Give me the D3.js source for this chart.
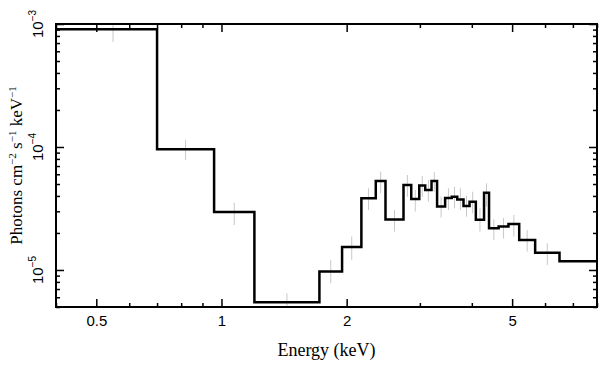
<!DOCTYPE html>
<html>
<head>
<meta charset="utf-8">
<script src="https://cdn.jsdelivr.net/npm/d3@7"></script>
<style>
  body { margin: 0; background: #fff; }
  .tick line { stroke: #000; stroke-width: 1.5; }
  .domain { display: none; }
</style>
</head>
<body>
<div id="chart"></div>
<script>
var width = 609;
var height = 370;
var margin = {left: 56, right: 12, top: 24, bottom: 63};

// bin edges in keV (one more than the bins)
var edges = [0.43, 0.70, 0.96, 1.20, 1.72, 1.95, 2.17, 2.35, 2.48, 2.74, 2.86, 2.99, 3.09, 3.20,
  3.30, 3.45, 3.58, 3.69, 3.82, 3.95, 4.09, 4.28, 4.40, 4.64, 4.90, 5.20, 5.68, 6.50, 9.0];
// photons cm^-2 s^-1 keV^-1
var flux = [9.06e-4, 9.58e-5, 2.96e-5, 5.46e-6, 9.72e-6, 1.54e-5, 3.83e-5, 5.29e-5, 2.57e-5,
  4.91e-5, 3.78e-5, 4.86e-5, 4.47e-5, 5.29e-5, 3.28e-5, 3.85e-5, 3.94e-5, 3.74e-5, 3.31e-5,
  3.59e-5, 2.56e-5, 4.25e-5, 2.18e-5, 2.26e-5, 2.37e-5, 1.75e-5, 1.38e-5, 1.18e-5];
var errHi = [9.81e-4, 1.14e-4, 3.52e-5, 6.46e-6, 1.21e-5, 1.87e-5, 4.62e-5, 6.30e-5, 3.07e-5,
  5.92e-5, 4.47e-5, 5.81e-5, 5.39e-5, 6.26e-5, 3.94e-5, 4.62e-5, 4.75e-5, 4.62e-5, 4.0e-5,
  4.33e-5, 3.17e-5, 5.07e-5, 2.58e-5, 2.65e-5, 2.80e-5, 2.11e-5, 1.65e-5, null];
var errLo = [7.14e-4, 7.84e-5, 2.32e-5, 4.91e-6, 7.80e-6, 1.21e-5, 3.07e-5, 4.20e-5, 2.05e-5,
  3.94e-5, 2.98e-5, 3.94e-5, 3.59e-5, 4.33e-5, 2.67e-5, 3.07e-5, 3.17e-5, 3.07e-5, 2.71e-5,
  2.89e-5, 2.05e-5, 3.27e-5, 1.75e-5, 1.80e-5, 1.87e-5, 1.41e-5, 1.10e-5, null];

var xMajor = [0.5, 1, 2, 5];
var xMinor = [0.4, 0.6, 0.7, 0.8, 0.9, 3, 4, 6, 7, 8];
var yMajor = [1e-5, 1e-4, 1e-3];
var yExp = ["\u22125", "\u22124", "\u22123"];
var yMinor = [5e-6, 6e-6, 7e-6, 8e-6, 9e-6, 2e-5, 3e-5, 4e-5, 5e-5, 6e-5, 7e-5, 8e-5, 9e-5,
  2e-4, 3e-4, 4e-4, 5e-4, 6e-4, 7e-4, 8e-4, 9e-4];

var x = d3.scaleLog().domain([0.4, 8]).range([margin.left, width - margin.right]);
var y = d3.scaleLog().domain([5e-6, 1e-3]).range([height - margin.bottom, margin.top]);

var svg = d3.select("#chart").append("svg")
    .attr("width", width)
    .attr("height", height);

svg.append("clipPath").attr("id", "plot")
  .append("rect")
    .attr("x", x.range()[0]).attr("y", y.range()[1])
    .attr("width", x.range()[1] - x.range()[0])
    .attr("height", y.range()[0] - y.range()[1]);

// error bars at bin centres
var bins = flux.map(function(v, i) {
  return {e: Math.sqrt(edges[i] * edges[i + 1]), v: v, lo: errLo[i], hi: errHi[i]};
});

svg.append("g").attr("clip-path", "url(#plot)")
  .selectAll("line")
  .data(bins.filter(function(d) { return d.lo != null; }))
  .enter().append("line")
    .attr("x1", function(d) { return x(d.e); })
    .attr("x2", function(d) { return x(d.e); })
    .attr("y1", function(d) { return y(d.lo); })
    .attr("y2", function(d) { return y(d.hi); })
    .attr("stroke", "#c8c8c8")
    .attr("stroke-width", 1);

// step histogram
var steps = flux.map(function(v, i) { return [i == 0 ? x.domain()[0] : edges[i], v]; });
steps.push([edges[edges.length - 1], flux[flux.length - 1]]);

var line = d3.line()
    .x(function(d) { return x(d[0]); })
    .y(function(d) { return y(d[1]); })
    .curve(d3.curveStepAfter);

svg.append("path")
    .datum(steps)
    .attr("clip-path", "url(#plot)")
    .attr("d", line)
    .attr("fill", "none")
    .attr("stroke", "#000")
    .attr("stroke-width", 2.5);

// axes, ticks pointing inward
function xAxes(size, vals, labels) {
  var b = d3.axisBottom(x).tickValues(vals).tickSize(-size).tickPadding(8)
      .tickFormat(labels ? d3.format("") : "");
  svg.append("g").attr("transform", "translate(0," + y.range()[0] + ")").call(b)
    .selectAll("text").attr("font-family", "Liberation Sans, Arial, sans-serif")
    .attr("font-size", 15).attr("fill", "#000");
  svg.append("g").attr("transform", "translate(0," + y.range()[1] + ")")
    .call(d3.axisTop(x).tickValues(vals).tickSize(-size).tickFormat(""));
}
function yAxes(size, vals) {
  svg.append("g").attr("transform", "translate(" + x.range()[0] + ",0)")
    .call(d3.axisLeft(y).tickValues(vals).tickSize(-size).tickFormat(""));
  svg.append("g").attr("transform", "translate(" + x.range()[1] + ",0)")
    .call(d3.axisRight(y).tickValues(vals).tickSize(-size).tickFormat(""));
}
xAxes(8, xMajor, true);
xAxes(4, xMinor, false);
yAxes(8, yMajor);
yAxes(4, yMinor);

svg.append("rect")
    .attr("x", x.range()[0]).attr("y", y.range()[1])
    .attr("width", x.range()[1] - x.range()[0])
    .attr("height", y.range()[0] - y.range()[1])
    .attr("fill", "none")
    .attr("stroke", "#000")
    .attr("stroke-width", 2);

// y tick labels, rotated with superscript exponents
yMajor.forEach(function(v, i) {
  var t = svg.append("text")
      .attr("transform", "translate(43," + y(v) + ") rotate(-90)")
      .attr("text-anchor", "middle")
      .attr("font-family", "Liberation Sans, Arial, sans-serif")
      .attr("font-size", 15);
  t.append("tspan").text("10");
  t.append("tspan").attr("dy", -7).attr("font-size", 10).text(yExp[i]);
});

// axis titles
svg.append("text")
    .attr("x", (x.range()[0] + x.range()[1]) / 2)
    .attr("y", 356)
    .attr("text-anchor", "middle")
    .attr("font-family", "Liberation Serif, Times New Roman, serif")
    .attr("font-size", 18)
    .text("Energy (keV)");

var yt = svg.append("text")
    .attr("transform", "translate(22," + (y.range()[0] + y.range()[1]) / 2 + ") rotate(-90)")
    .attr("text-anchor", "middle")
    .attr("font-family", "Liberation Serif, Times New Roman, serif")
    .attr("font-size", 17);
yt.append("tspan").text("Photons cm");
yt.append("tspan").attr("dy", -6).attr("font-size", 11).text("\u22122");
yt.append("tspan").attr("dy", 6).text(" s");
yt.append("tspan").attr("dy", -6).attr("font-size", 11).text("\u22121");
yt.append("tspan").attr("dy", 6).text(" keV");
yt.append("tspan").attr("dy", -6).attr("font-size", 11).text("\u22121");
</script>
</body>
</html>
